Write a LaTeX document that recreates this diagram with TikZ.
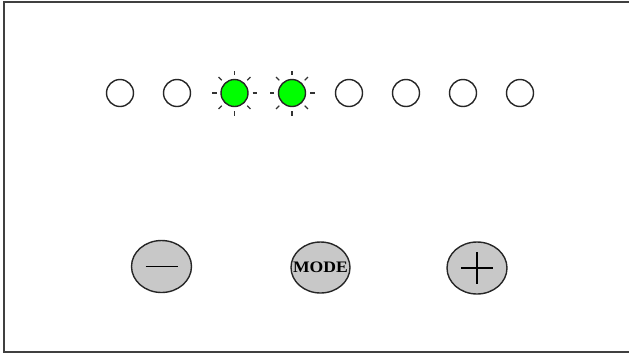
\documentclass[tikz,border=0pt]{standalone}
\usepackage{fontspec}
\setmainfont{Liberation Serif}
\usetikzlibrary{calc,shapes.geometric}
\begin{document}
\begin{tikzpicture}[x=1pt,y=-1pt,
  led/.style={circle,draw=black!85,line width=1.4pt,minimum size=27pt,inner sep=0pt},
  ledon/.style={led,fill=ledgreen},
  btn/.style={ellipse,draw=black!85,line width=1.4pt,fill=btngray,inner sep=0pt,minimum width=60pt,minimum height=52pt},
  signline/.style={line width=1.5pt,black},
  ray/.style={line width=1.2pt,black!80}]
\definecolor{ledgreen}{RGB}{0,255,0}
\definecolor{btngray}{RGB}{200,200,200}
\useasboundingbox (0,0) rectangle (629,354);
\draw[line width=2pt,black!75] (640,1.5) -- (4,1.5) -- (4,351.5) -- (640,351.5);
\foreach \i/\x in {1/120,2/177,5/349,6/406,7/463,8/520}{
  \node[led] (l\i) at (\x,93) {};
}
\foreach \i/\x in {3/234.5,4/292}{
  \node[ledon] (l\i) at (\x,93) {};
  \foreach \a in {0,45,...,315}{
    \draw[ray] ($(l\i.center)+(\a:18)$) -- ($(l\i.center)+(\a:22.5)$);
  }
}
\node[btn] (minus) at (161.5,266.5) {};
\node[btn,minimum width=59pt,minimum height=51pt] (mode) at (320.5,267.5) {};
\node[inner sep=0pt] (modetext) at (mode.center) {\scalebox{1.1}[1]{\fontsize{16}{17}\selectfont\bfseries MODE}};
\node[btn] (plus) at (477,268) {};
\draw[signline] ($(minus.center)+(-16,0)$) -- ($(minus.center)+(16,0)$);
\draw[signline] ($(plus.center)+(-16,0)$) -- ($(plus.center)+(16,0)$);
\draw[signline] ($(plus.center)+(0,-16)$) -- ($(plus.center)+(0,16)$);
\end{tikzpicture}
\end{document}
